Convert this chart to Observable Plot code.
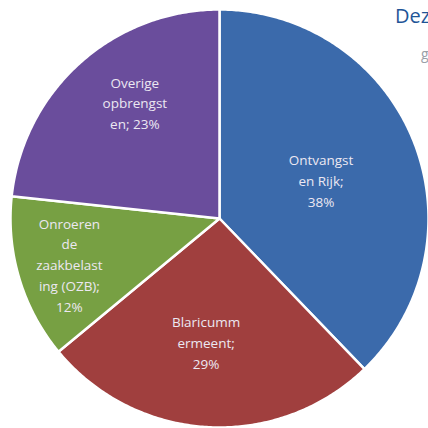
<!DOCTYPE html>
<html>
<head>
<meta charset="utf-8">
<script src="https://cdn.jsdelivr.net/npm/d3@7"></script>
<script src="https://cdn.jsdelivr.net/npm/@observablehq/plot@0.6"></script>
<style>
  html, body { margin: 0; padding: 0; background: #fff; }
  #wrap { position: relative; width: 428px; height: 428px; overflow: hidden; }
  #title { position: absolute; left: 395px; top: 2px; font-family: "Open Sans", sans-serif; font-size: 20px; color: #1f5597; white-space: nowrap; }
  #sub { position: absolute; left: 421px; top: 44px; font-family: "Open Sans", sans-serif; font-size: 14px; color: #9aa0a8; white-space: nowrap; }
</style>
</head>
<body>
<div id="wrap">
  <div id="chart"></div>
  <div id="title">Deze</div>
  <div id="sub">g</div>
</div>
<script>
// Data
const categories = ["Ontvangsten Rijk", "Blaricummermeent", "Onroerende zaakbelasting (OZB)", "Overige opbrengsten"];
const shares = [37.8, 26.2, 12.7, 23.3];          // slice sizes as drawn
const labels = ["Ontvangst\nen Rijk;\n38%", "Blaricumm\nermeent;\n29%", "Onroeren\nde\nzaakbelast\ning (OZB);\n12%", "Overige\nopbrengst\nen; 23%"];
const colors = ["#3b6aab", "#a03f3e", "#77a043", "#6a4d9c"];

// label placement (layout, not data)
const labelRadius = [0.52, 0.59, 0.75, 0.69];
const labelAngleShift = [1, 3, 0, 6]; // degrees

const pie = d3.pie().sort(null).value(d => d.share);
const rows = categories.map((c, i) => ({cat: c, share: shares[i], label: labels[i], idx: i}));
const arcs = pie(rows);

// polygon points for each slice on unit circle (angle clockwise from top)
const pts = [];
arcs.forEach(a => {
  const n = Math.max(2, Math.ceil((a.endAngle - a.startAngle) / 0.01));
  pts.push({cat: a.data.cat, x: 0, y: 0});
  for (let k = 0; k <= n; k++) {
    const t = a.startAngle + (a.endAngle - a.startAngle) * k / n;
    pts.push({cat: a.data.cat, x: Math.sin(t), y: Math.cos(t)});
  }
});
const labelPts = arcs.map(a => {
  const m = (a.startAngle + a.endAngle) / 2 + labelAngleShift[a.data.idx] * Math.PI / 180;
  const r = labelRadius[a.data.idx];
  return {cat: a.data.cat, label: a.data.label, x: r * Math.sin(m), y: r * Math.cos(m)};
});

const chart = Plot.plot({
  width: 428,
  height: 428,
  marginLeft: 10,
  marginRight: 0,
  marginTop: 9,
  marginBottom: 1,
  x: {domain: [-1, 1], axis: null},
  y: {domain: [-1, 1], axis: null},
  color: {domain: categories, range: colors},
  style: {background: "transparent"},
  marks: [
    Plot.line(pts, {x: "x", y: "y", z: "cat", fill: "cat", stroke: "white", strokeWidth: 2.5, curve: "linear-closed", strokeLinejoin: "round"}),
    Plot.text(labelPts, {x: "x", y: "y", text: "label", fill: "#ece8f2", fontSize: 13.5, lineHeight: 1.55, fontFamily: "Open Sans", textAnchor: "middle"})
  ]
});
document.getElementById("chart").appendChild(chart);
</script>
</body>
</html>
